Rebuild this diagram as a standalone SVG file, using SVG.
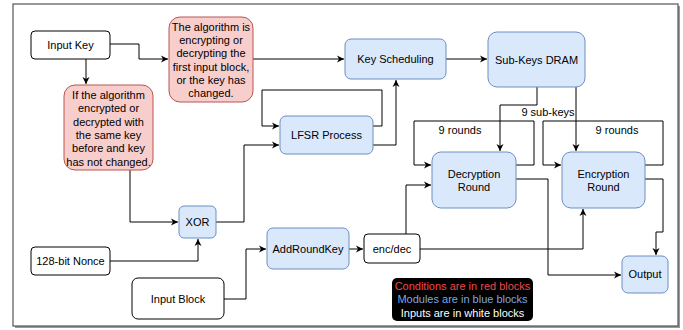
<svg xmlns="http://www.w3.org/2000/svg" width="683" height="330" viewBox="0 0 683 330">
<defs>
<marker id="arr" markerWidth="8" markerHeight="8" refX="7" refY="4" orient="auto" markerUnits="userSpaceOnUse">
<path d="M0,0.5 L7,4 L0,7.5 L2,4 Z" fill="#000"/>
</marker>
</defs>
<style>
text{font-family:"Liberation Sans",Arial,sans-serif;font-size:11px;fill:#000;text-anchor:middle}
.w{fill:#fff;stroke:#000;stroke-width:1}
.r{fill:#f8cecc;stroke:#b85450;stroke-width:1}
.b{fill:#dae8fc;stroke:#6c8ebf;stroke-width:1}
.c{fill:none;stroke:#000;stroke-width:1}
.a{marker-end:url(#arr)}
</style>
<rect x="0" y="0" width="683" height="330" fill="#fff"/>
<rect x="15" y="6" width="665" height="322" fill="#999"/>
<rect x="13" y="4" width="665" height="322" fill="#fff" stroke="#555" stroke-width="1.2"/>

<g id="connectors">
<path class="c a" d="M110,44 H139 V59 H168"/>
<path class="c a" d="M86,59 V84"/>
<path class="c a" d="M253,59 H344"/>
<path class="c a" d="M446,59 H487"/>
<path class="c a" d="M373,126 H382 V90 H262 V126 H279"/>
<path class="c a" d="M373,145 H396 V80"/>
<path class="c a" d="M130,170 V222 H178"/>
<path class="c a" d="M216,222 H244 V145 H279"/>
<path class="c a" d="M110,261 H198 V239"/>
<path class="c a" d="M224,299 H246 V249 H266"/>
<path class="c a" d="M349,249 H363"/>
<path class="c a" d="M406,234 V185 H431"/>
<path class="c a" d="M420,249 H583 V209"/>
<path class="c a" d="M537,87 V105 H500 V151"/>
<path class="c a" d="M576,87 V151"/>
<path class="c a" d="M516,165 H534 V121 H414 V165 H431"/>
<path class="c a" d="M645,165 H663 V121 H543 V165 H561"/>
<path class="c a" d="M516,179 H548 V275 H621"/>
<path class="c a" d="M645,179 H663 V232 H656 V255"/>
<text x="548" y="116">9 sub-keys</text>
<text x="460" y="134">9 rounds</text>
<text x="617" y="134">9 rounds</text>
</g>

<g id="input-key"><rect class="w" x="31" y="31" width="79" height="28" rx="4"/><text x="70.5" y="49">Input Key</text></g>

<g id="cond-first">
<rect class="r" x="169" y="17" width="84" height="85" rx="11"/>
<text x="211" y="31">The algorithm is</text>
<text x="211" y="44">encrypting or</text>
<text x="211" y="57">decrypting the</text>
<text x="211" y="71">first input block,</text>
<text x="211" y="84">or the key has</text>
<text x="211" y="97">changed.</text>
</g>

<g id="cond-same">
<rect class="r" x="64" y="85" width="89" height="85" rx="11"/>
<text x="108.5" y="99">If the algorithm</text>
<text x="108.5" y="112">encrypted or</text>
<text x="108.5" y="126">decrypted with</text>
<text x="108.5" y="139">the same key</text>
<text x="108.5" y="152">before and key</text>
<text x="108.5" y="166">has not changed.</text>
</g>

<g id="key-scheduling"><rect class="b" x="345" y="39" width="101" height="40" rx="6"/><text x="395.5" y="63">Key Scheduling</text></g>
<g id="sub-keys-dram"><rect class="b" x="488" y="32" width="97" height="55" rx="9"/><text x="536.5" y="63.5">Sub-Keys DRAM</text></g>
<g id="lfsr"><rect class="b" x="280" y="116" width="93" height="38" rx="6"/><text x="326.5" y="139">LFSR Process</text></g>
<g id="xor"><rect class="b" x="179" y="206" width="37" height="32" rx="5"/><text x="197.5" y="226">XOR</text></g>
<g id="nonce"><rect class="w" x="31" y="247" width="79" height="28" rx="4"/><text x="70.5" y="265">128-bit Nonce</text></g>
<g id="input-block"><rect class="w" x="132" y="278" width="92" height="41" rx="6"/><text x="178" y="302.5">Input Block</text></g>
<g id="addroundkey"><rect class="b" x="267" y="228" width="82" height="41" rx="6"/><text x="308" y="252.5">AddRoundKey</text></g>
<g id="encdec"><rect class="w" x="364" y="234" width="56" height="29" rx="4"/><text x="392" y="252.5">enc/dec</text></g>
<g id="decryption"><rect class="b" x="432" y="152" width="84" height="56" rx="9"/><text x="474" y="178">Decryption</text><text x="474" y="191">Round</text></g>
<g id="encryption"><rect class="b" x="562" y="152" width="83" height="56" rx="9"/><text x="603.5" y="178">Encryption</text><text x="603.5" y="191">Round</text></g>
<g id="output"><rect class="b" x="622" y="256" width="46" height="37" rx="6"/><text x="645" y="278">Output</text></g>

<g id="legend">
<rect x="392" y="278" width="141" height="43" rx="5" fill="#000"/>
<text x="462.5" y="290" style="fill:#ea4a4a">Conditions are in red blocks</text>
<text x="462.5" y="303" style="fill:#7ea6e0">Modules are in blue blocks</text>
<text x="462.5" y="317" style="fill:#fff">Inputs are in white blocks</text>
</g>
</svg>
